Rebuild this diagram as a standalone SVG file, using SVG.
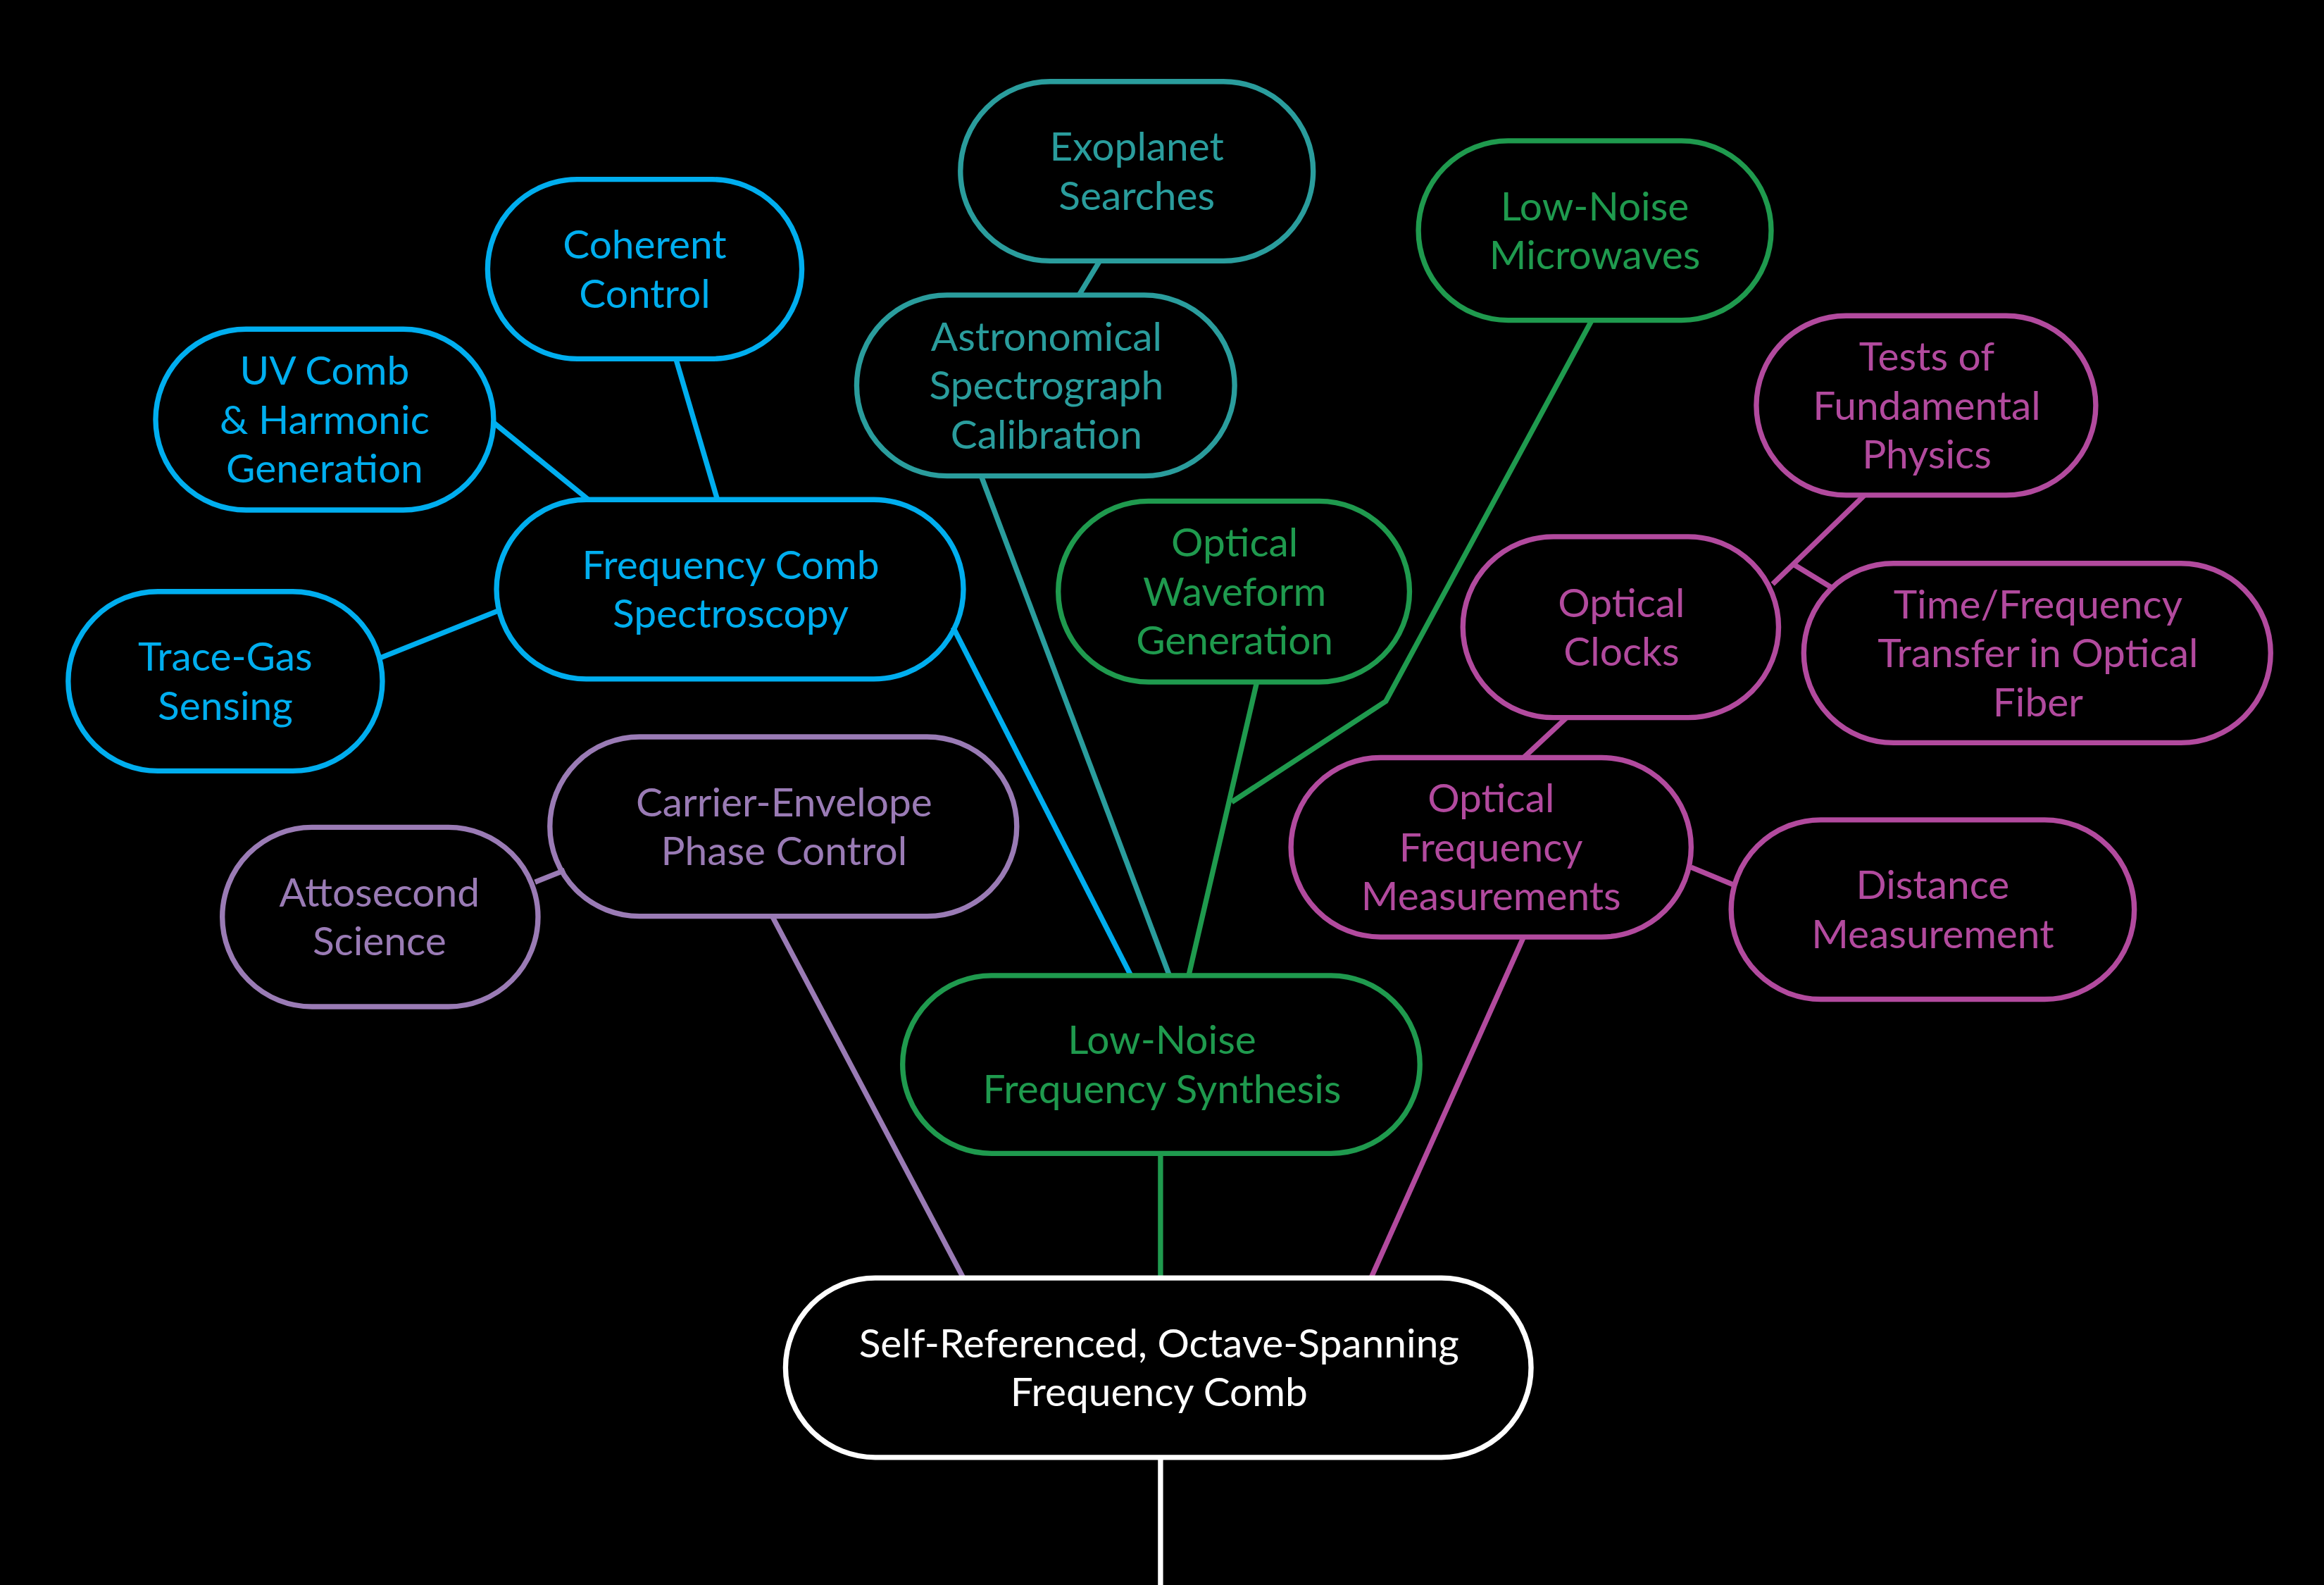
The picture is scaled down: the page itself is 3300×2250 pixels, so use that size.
<svg xmlns="http://www.w3.org/2000/svg" width="3300" height="2250" viewBox="0 0 3300 2250">
<style>
rect{fill:none;stroke-width:3.5}
line,polyline{fill:none;stroke-width:3.5}
text{font-family:Lato,"Open Sans","Liberation Sans",sans-serif;font-size:27px;text-anchor:middle}
.c{stroke:#00aeef}.ct{fill:#00aeef}
.t{stroke:#2a9d9d}.tt{fill:#2a9d9d}
.g{stroke:#1f9a4e}.gt{fill:#1f9a4e}
.m{stroke:#b24a9e}.mt{fill:#b24a9e}
.p{stroke:#9a7bb5}.pt{fill:#9a7bb5}
.w{stroke:#fff}.wt{fill:#fff}
</style>
<rect x="0" y="0" width="3300" height="2250" fill="#000" style="fill:#000;stroke:none"/>
<g transform="scale(2.1046)">
<g id="connectors">
<line class="t" x1="742" y1="176" x2="728" y2="199"/>
<line class="c" x1="456" y1="242" x2="484" y2="337"/>
<line class="c" x1="333" y1="285" x2="397" y2="337"/>
<line class="c" x1="256" y1="444" x2="336" y2="412"/>
<line class="c" x1="643" y1="423" x2="763" y2="658"/>
<line class="t" x1="662" y1="321" x2="789" y2="658"/>
<line class="g" x1="848" y1="460" x2="802" y2="658"/>
<polyline class="g" points="1074,216 935,473 831,541"/>
<line class="m" x1="1258" y1="334" x2="1196" y2="394"/>
<line class="m" x1="1237" y1="397" x2="1209" y2="380"/>
<line class="m" x1="1057" y1="484" x2="1028" y2="511"/>
<line class="m" x1="1141" y1="585" x2="1170" y2="597"/>
<line class="m" x1="1028" y1="632" x2="925" y2="862"/>
<line class="p" x1="361" y1="595" x2="381" y2="587"/>
<line class="p" x1="521" y1="618" x2="650" y2="862"/>
<line class="g" x1="783" y1="778" x2="783" y2="862"/>
<line class="w" x1="783" y1="983" x2="783" y2="1070"/>
</g>
<g id="exoplanet"><rect class="t" x="648" y="55" width="238" height="121" rx="60.5"/><text class="tt" x="767" y="108.5">Exoplanet</text><text class="tt" x="767" y="141.5">Searches</text></g>
<g id="coherent"><rect class="c" x="329" y="121" width="212" height="121" rx="60.5"/><text class="ct" x="435" y="174.5">Coherent</text><text class="ct" x="435" y="207.5">Control</text></g>
<g id="microwaves"><rect class="g" x="957" y="95" width="238" height="121" rx="60.5"/><text class="gt" x="1076" y="148.5">Low-Noise</text><text class="gt" x="1076" y="181.5">Microwaves</text></g>
<g id="uvcomb"><rect class="c" x="105" y="222" width="228" height="122" rx="61"/><text class="ct" x="219" y="259.5">UV Comb</text><text class="ct" x="219" y="292.5">&amp; Harmonic</text><text class="ct" x="219" y="325.5">Generation</text></g>
<g id="astronomical"><rect class="t" x="578" y="199" width="255" height="122" rx="61"/><text class="tt" x="706" y="236.5">Astronomical</text><text class="tt" x="706" y="269.5">Spectrograph</text><text class="tt" x="706" y="302.5">Calibration</text></g>
<g id="tests"><rect class="m" x="1185" y="213" width="229" height="121" rx="60.5"/><text class="mt" x="1300" y="250">Tests of</text><text class="mt" x="1300" y="283">Fundamental</text><text class="mt" x="1300" y="316">Physics</text></g>
<g id="fcs"><rect class="c" x="335" y="337" width="315" height="121" rx="60.5"/><text class="ct" x="493" y="390.5">Frequency Comb</text><text class="ct" x="493" y="423.5">Spectroscopy</text></g>
<g id="owg"><rect class="g" x="714" y="338" width="237" height="122" rx="61"/><text class="gt" x="833" y="375.5">Optical</text><text class="gt" x="833" y="408.5">Waveform</text><text class="gt" x="833" y="441.5">Generation</text></g>
<g id="clocks"><rect class="m" x="987" y="362" width="213" height="122" rx="61"/><text class="mt" x="1094" y="416">Optical</text><text class="mt" x="1094" y="449">Clocks</text></g>
<g id="timefreq"><rect class="m" x="1217" y="380" width="315" height="121" rx="60.5"/><text class="mt" x="1375" y="417">Time/Frequency</text><text class="mt" x="1375" y="450">Transfer in Optical</text><text class="mt" x="1375" y="483">Fiber</text></g>
<g id="tracegas"><rect class="c" x="46" y="399" width="212" height="121" rx="60.5"/><text class="ct" x="152" y="452.5">Trace-Gas</text><text class="ct" x="152" y="485.5">Sensing</text></g>
<g id="cep"><rect class="p" x="371" y="497" width="315" height="121" rx="60.5"/><text class="pt" x="529" y="550.5">Carrier-Envelope</text><text class="pt" x="529" y="583.5">Phase Control</text></g>
<g id="ofm"><rect class="m" x="871" y="511" width="270" height="121" rx="60.5"/><text class="mt" x="1006" y="548">Optical</text><text class="mt" x="1006" y="581">Frequency</text><text class="mt" x="1006" y="614">Measurements</text></g>
<g id="atto"><rect class="p" x="150" y="558" width="213" height="121" rx="60.5"/><text class="pt" x="256" y="611.5">Attosecond</text><text class="pt" x="256" y="644.5">Science</text></g>
<g id="distance"><rect class="m" x="1168" y="553" width="272" height="121" rx="60.5"/><text class="mt" x="1304" y="606.5">Distance</text><text class="mt" x="1304" y="639.5">Measurement</text></g>
<g id="lnfs"><rect class="g" x="609" y="658" width="349" height="120" rx="60"/><text class="gt" x="784" y="711">Low-Noise</text><text class="gt" x="784" y="744">Frequency Synthesis</text></g>
<g id="selfref"><rect class="w" x="530" y="862" width="503" height="121" rx="60.5"/><text class="wt" x="782" y="915.5">Self-Referenced, Octave-Spanning</text><text class="wt" x="782" y="948.5">Frequency Comb</text></g>
</g>
</svg>
